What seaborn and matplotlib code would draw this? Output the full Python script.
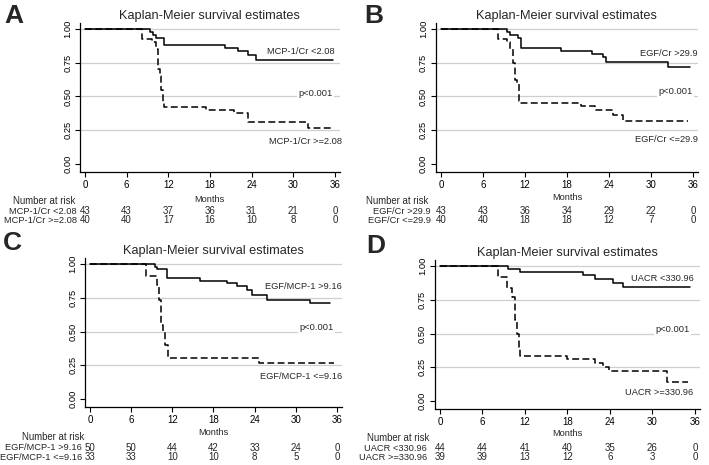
import numpy as np
import pandas as pd
import matplotlib
matplotlib.use("Agg")
import matplotlib.pyplot as plt
import matplotlib.transforms as mtransforms
import seaborn as sns

# ---- data (months, survival probability) ----
a_lo_t = [0, 9.4, 9.8, 10.3, 11.4, 20.2, 22.0, 23.5, 24.7, 35.8]
a_lo_s = [1.0, 0.977, 0.953, 0.93, 0.884, 0.86, 0.837, 0.807, 0.773, 0.773]
a_hi_t = [0, 8.2, 9.6, 10.2, 10.5, 10.8, 11.0, 11.2, 11.4, 17.5, 21.4, 23.5, 32.2, 35.8]
a_hi_s = [1.0, 0.925, 0.90, 0.85, 0.70, 0.65, 0.55, 0.45, 0.425, 0.40, 0.375, 0.31, 0.27, 0.27]

b_hi_t = [0, 9.4, 9.8, 11.0, 11.4, 17.2, 21.5, 23.2, 23.6, 32.4, 35.5]
b_hi_s = [1.0, 0.977, 0.953, 0.93, 0.86, 0.837, 0.814, 0.79, 0.757, 0.72, 0.72]
b_lo_t = [0, 8.2, 9.4, 9.9, 10.3, 10.6, 10.9, 11.1, 11.3, 20.0, 22.0, 24.6, 26.0, 35.3]
b_lo_s = [1.0, 0.925, 0.90, 0.85, 0.75, 0.625, 0.60, 0.47, 0.452, 0.432, 0.40, 0.365, 0.316, 0.316]

c_hi_t = [0, 9.5, 9.8, 11.2, 16.1, 19.9, 21.4, 22.9, 23.6, 25.8, 32.1, 35.0]
c_hi_s = [1.0, 0.98, 0.96, 0.896, 0.877, 0.86, 0.84, 0.81, 0.77, 0.736, 0.711, 0.711]
c_lo_t = [0, 8.1, 9.7, 10.1, 10.4, 10.7, 11.0, 11.4, 24.6, 35.5]
c_lo_s = [1.0, 0.909, 0.847, 0.73, 0.55, 0.50, 0.40, 0.304, 0.267, 0.267]

d_lo_t = [0, 9.6, 11.3, 20.2, 21.9, 24.5, 25.9, 35.3]
d_lo_s = [1.0, 0.977, 0.955, 0.931, 0.901, 0.876, 0.843, 0.843]
d_hi_t = [0, 8.2, 9.4, 10.1, 10.6, 10.9, 11.1, 11.3, 18.0, 21.9, 23.0, 23.8, 32.0, 35.0]
d_hi_s = [1.0, 0.918, 0.84, 0.77, 0.60, 0.50, 0.40, 0.331, 0.309, 0.28, 0.255, 0.222, 0.14, 0.14]

risk_times = [0, 6, 12, 18, 24, 30, 36]
a_risk_lo = [43, 43, 37, 36, 31, 21, 0]
a_risk_hi = [40, 40, 17, 16, 10, 8, 0]
b_risk_hi = [43, 43, 36, 34, 29, 22, 0]
b_risk_lo = [40, 40, 18, 18, 12, 7, 0]
c_risk_hi = [50, 50, 44, 42, 33, 24, 0]
c_risk_lo = [33, 33, 10, 10, 8, 5, 0]
d_risk_lo = [44, 44, 41, 40, 35, 26, 0]
d_risk_hi = [39, 39, 13, 12, 6, 3, 0]

panels = [
    dict(tag="A", solid=(a_lo_t, a_lo_s), dashed=(a_hi_t, a_hi_s),
         solid_lab="MCP-1/Cr <2.08", dashed_lab="MCP-1/Cr >=2.08",
         risk1=a_risk_lo, risk2=a_risk_hi,
         geo=(85, 6.94, 29, 164), tag_xy=(4, 4),
         rows=(199, 201, 211, 220), hdr_x=13, lab_end=77,
         lab_pos=[(36.0, 0.837), (35.7, 0.52), (37.0, 0.163)]),
    dict(tag="B", solid=(b_hi_t, b_hi_s), dashed=(b_lo_t, b_lo_s),
         solid_lab="EGF/Cr >29.9", dashed_lab="EGF/Cr <=29.9",
         risk1=b_risk_hi, risk2=b_risk_lo,
         geo=(441, 7.0, 29, 164), tag_xy=(364, 4),
         rows=(198, 201, 211, 220), hdr_x=366, lab_end=431,
         lab_pos=[(36.7, 0.82), (35.9, 0.535), (36.7, 0.178)]),
    dict(tag="C", solid=(c_hi_t, c_hi_s), dashed=(c_lo_t, c_lo_s),
         solid_lab="EGF/MCP-1 >9.16", dashed_lab="EGF/MCP-1 <=9.16",
         risk1=c_risk_hi, risk2=c_risk_lo,
         geo=(90, 6.86, 264, 399), tag_xy=(3, 231),
         rows=(432, 437, 447.5, 457), hdr_x=22, lab_end=82,
         lab_pos=[(36.7, 0.835), (35.5, 0.533), (36.7, 0.168)]),
    dict(tag="D", solid=(d_lo_t, d_lo_s), dashed=(d_hi_t, d_hi_s),
         solid_lab="UACR <330.96", dashed_lab="UACR >=330.96",
         risk1=d_risk_lo, risk2=d_risk_hi,
         geo=(440, 7.08, 266, 401), tag_xy=(366, 234),
         rows=(433, 438, 448, 457), hdr_x=367, lab_end=427,
         lab_pos=[(35.8, 0.906), (35.3, 0.53), (35.8, 0.062)]),
]

W, H = 709, 465
sns.set_theme(style="white")
plt.rcParams['font.family'] = ['Liberation Sans', 'DejaVu Sans']

fig = plt.figure(figsize=(W / 100, H / 100), dpi=100)
fig.patch.set_facecolor("white")

XLIM = (-0.75, 36.7)
YLIM = (-0.06, 1.045)
FS = 6.7


def fx(px):
    return px / W


def fy(py):
    return 1 - py / H


for p in panels:
    x0, pxm, y1, y0 = p["geo"]
    pyu = y0 - y1
    left = x0 + XLIM[0] * pxm
    width = (XLIM[1] - XLIM[0]) * pxm
    top = y0 - YLIM[1] * pyu
    bottom = y0 - YLIM[0] * pyu
    ax = fig.add_axes([fx(left), fy(bottom), width / W, (bottom - top) / H])
    ax.set_facecolor("white")

    for yg in [0.25, 0.5, 0.75, 1.0]:
        ax.axhline(yg, color="#cfcfcf", lw=0.9, zorder=0)

    df_s = pd.DataFrame({"t": p["solid"][0], "s": p["solid"][1]})
    df_d = pd.DataFrame({"t": p["dashed"][0], "s": p["dashed"][1]})
    sns.lineplot(data=df_s, x="t", y="s", ax=ax, color="black", lw=1.1,
                 estimator=None, sort=False, drawstyle="steps-post", zorder=3)
    sns.lineplot(data=df_d, x="t", y="s", ax=ax, color="black", lw=1.1,
                 estimator=None, sort=False, drawstyle="steps-post",
                 dashes=False, linestyle=(0, (4.5, 2.2)), zorder=3)

    ax.set_xlim(*XLIM)
    ax.set_ylim(*YLIM)
    ax.set_xticks(risk_times)
    ax.set_xticklabels([str(t) for t in risk_times], fontsize=FS + 0.3)
    ax.set_yticks([0, 0.25, 0.5, 0.75, 1.0])
    ax.set_yticklabels(["0.00", "0.25", "0.50", "0.75", "1.00"],
                       fontsize=FS, rotation=90, va="center")
    ax.tick_params(axis="both", direction="out", length=3.5, width=0.8,
                   color="black", pad=2, labelcolor="black")
    ax.tick_params(axis="x", bottom=True)
    ax.tick_params(axis="y", left=True)
    ax.set_xlabel("")
    ax.set_ylabel("")
    for side in ["top", "right"]:
        ax.spines[side].set_visible(False)
    for side in ["left", "bottom"]:
        ax.spines[side].set_color("black")
        ax.spines[side].set_linewidth(0.9)

    box = dict(facecolor="white", edgecolor="none", pad=1.0)
    texts = [p["solid_lab"], "p<0.001", p["dashed_lab"]]
    for txt, (tx, ty) in zip(texts, p["lab_pos"]):
        ax.text(tx, ty, txt, ha="right", va="center", fontsize=FS,
                bbox=box, zorder=4, clip_on=False)

    ax.set_title("Kaplan-Meier survival estimates", fontsize=9.2, pad=3)

    # number at risk table
    months_y, hdr_y, r1_y, r2_y = p["rows"]
    trans = mtransforms.blended_transform_factory(ax.transData, fig.transFigure)
    ax.text(18, fy(months_y), "Months", transform=trans,
            ha="center", va="center", fontsize=FS)
    fig.text(fx(p["hdr_x"]), fy(hdr_y), "Number at risk",
             ha="left", va="center", fontsize=FS + 0.2)
    fig.text(fx(p["lab_end"]), fy(r1_y), p["solid_lab"],
             ha="right", va="center", fontsize=FS)
    fig.text(fx(p["lab_end"]), fy(r2_y), p["dashed_lab"],
             ha="right", va="center", fontsize=FS)
    for t, n1, n2 in zip(risk_times, p["risk1"], p["risk2"]):
        ax.text(t, fy(r1_y), str(n1), transform=trans, ha="center",
                va="center", fontsize=FS + 0.3, clip_on=False)
        ax.text(t, fy(r2_y), str(n2), transform=trans, ha="center",
                va="center", fontsize=FS + 0.3, clip_on=False)

    tx, ty = p["tag_xy"]
    fig.text(fx(tx), fy(ty), p["tag"], ha="left", va="top",
             fontsize=19, fontweight="bold")

fig.savefig("out.png", dpi=100, facecolor="white")
